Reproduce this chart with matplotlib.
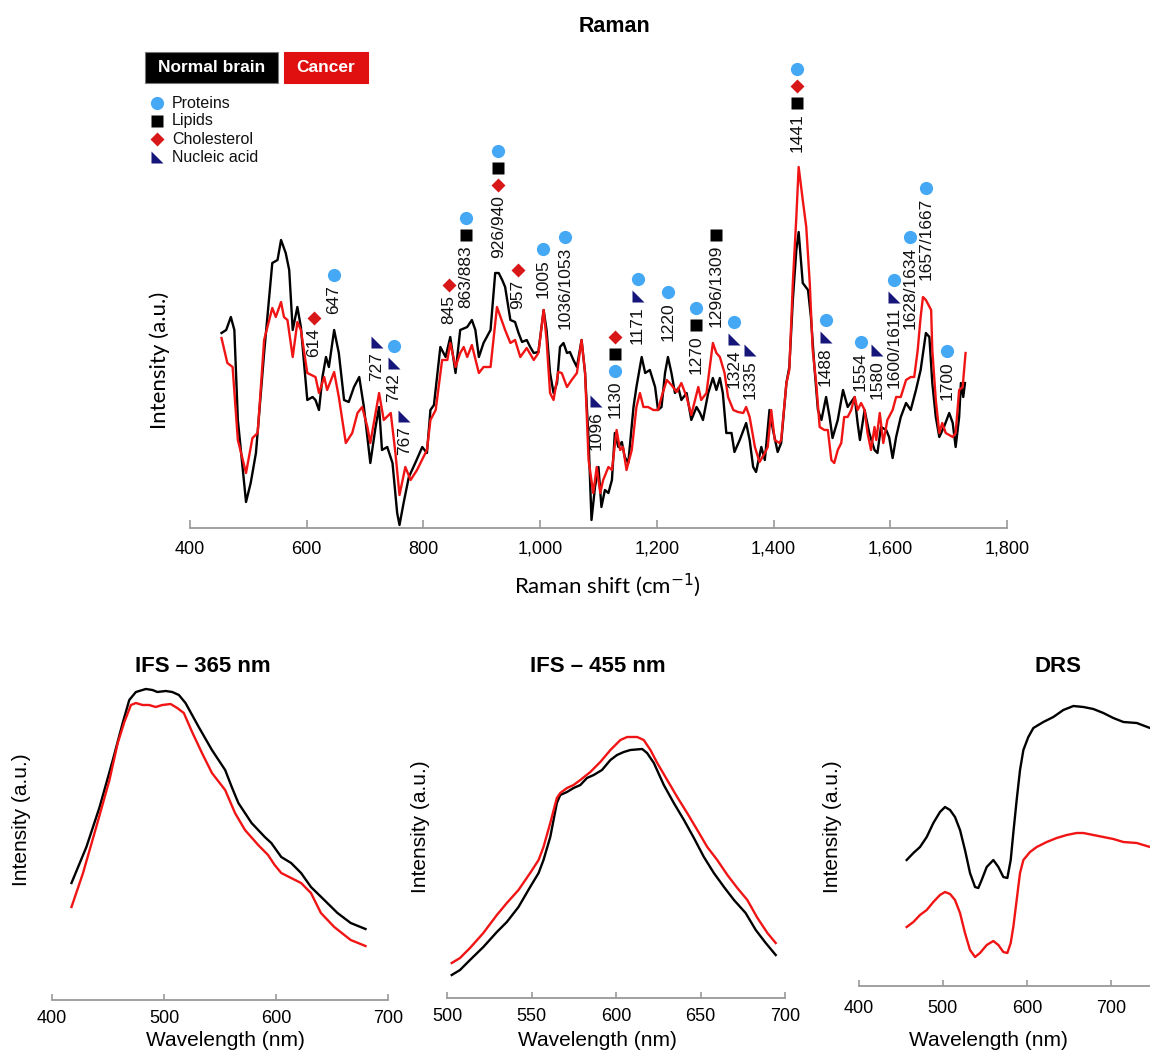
import matplotlib
matplotlib.use("Agg")
import matplotlib.pyplot as plt
from matplotlib.path import Path
from matplotlib.patches import Rectangle
from matplotlib.lines import Line2D

plt.rcParams['font.family'] = ['Liberation Sans', 'DejaVu Sans']

# ---------------- Raman data (wavenumber cm-1, intensity a.u.) ----------------
raman_normal_x = [454, 462, 470, 476, 482, 496, 504, 513, 527, 541, 550, 556, 564, 570, 576, 584, 590, 601, 610, 615,
                  621, 627, 633, 638, 647, 655, 664, 672, 681, 690, 698, 709, 718, 724, 729, 738, 747, 755, 759, 766,
                  775, 786, 798, 806, 812, 818, 829, 838, 846, 855, 863, 875, 883, 889, 895, 903, 915, 923, 929,
                  935, 940, 949, 957, 963, 969, 977, 983, 989, 997, 1006, 1011, 1017, 1023, 1029, 1034, 1040, 1046,
                  1051, 1057, 1063, 1071, 1077, 1083, 1088, 1094, 1100, 1105, 1111, 1117, 1123, 1128, 1134, 1140,
                  1145, 1151, 1160, 1165, 1174, 1180, 1188, 1197, 1202, 1208, 1214, 1219, 1225, 1231, 1237, 1242,
                  1251, 1259, 1268, 1274, 1279, 1288, 1296, 1302, 1308, 1313, 1319, 1328, 1333, 1342, 1353, 1359,
                  1365, 1370, 1379, 1385, 1393, 1399, 1407,
                  1413, 1422, 1427, 1433, 1439, 1443, 1450, 1459, 1464, 1470, 1476, 1482, 1490, 1496, 1501, 1510,
                  1519, 1527, 1533, 1539, 1544, 1548, 1556, 1564, 1573, 1578, 1584, 1593, 1598, 1604, 1610, 1618,
                  1627, 1635, 1644, 1652, 1661, 1667, 1672, 1678, 1684, 1692, 1701, 1707, 1712, 1718, 1721, 1725, 1728]
raman_normal_y = [195, 198, 211, 198, 108, 26, 45, 75, 175, 265, 268, 288, 275, 258, 198, 221, 201, 128, 131, 128,
                  118, 151, 171, 161, 198, 175, 128, 126, 141, 151, 121, 65, 101, 121, 78, 81, 65, 15, 3, 25,
                  51, 65, 81, 75, 118, 123, 181, 171, 191, 155, 198, 201, 208, 198, 171, 185, 198, 255, 255,
                  248, 241, 208, 206, 195, 186, 188, 181, 175, 176, 218, 198, 155, 135, 145, 181, 185, 175,
                  176, 168, 161, 188, 155, 88, 8, 41, 61, 21, 38, 35, 48, 95, 81, 86,
                  71, 65, 121, 141, 171, 155, 158, 141, 118, 121, 155, 171, 155, 135, 140, 128,
                  135, 108, 121, 115, 108, 135, 150, 138, 150, 135, 95, 95, 76, 88, 105, 88,
                  61, 56, 81, 68, 118, 98, 76,
                  85, 145, 161, 228, 278, 296, 245, 238, 211, 161, 118, 108, 131, 111, 90, 108,
                  138, 121, 126, 131, 105, 88, 118, 95, 78, 75, 101, 98, 91, 70, 91, 111,
                  125, 118, 138, 158, 195, 191, 145, 111, 91, 101, 115, 105, 81, 111, 145, 131, 145]

raman_cancer_x = [454, 464, 473, 482, 496, 507, 516, 527, 541, 547, 556, 561, 567, 576, 584, 590, 601, 615, 621, 630,
                  635, 647, 655, 667, 678, 687, 695, 704, 709, 724, 732, 744, 752, 759, 769, 778, 789, 806, 812, 821,
                  832, 841, 846, 855, 863, 869, 875, 883, 895, 903, 915, 926,
                  940, 949, 957, 966, 977, 989, 997, 1006, 1011, 1017, 1023, 1031, 1037, 1046, 1054, 1063, 1071,
                  1077, 1083, 1091, 1097, 1103, 1108, 1117, 1123, 1131, 1137, 1142, 1148, 1157, 1165, 1171, 1177,
                  1185, 1194, 1202, 1208, 1217, 1225, 1234, 1242, 1251, 1259, 1271, 1276, 1285, 1296, 1302, 1308,
                  1316, 1322, 1331, 1339, 1348, 1353, 1359, 1368, 1376, 1385, 1390, 1396, 1402, 1410,
                  1413, 1422, 1427, 1433, 1439, 1443, 1450, 1456, 1462, 1467, 1473, 1479, 1487, 1493, 1499, 1504,
                  1510, 1516, 1521, 1527, 1533, 1539, 1544, 1550, 1556, 1561, 1567, 1573, 1576, 1582, 1588, 1595,
                  1604, 1610, 1618, 1627, 1635, 1641, 1647, 1652, 1656, 1661, 1670, 1672, 1678, 1684, 1689, 1695,
                  1707, 1712, 1718, 1724, 1729]
raman_cancer_y = [190, 165, 161, 88, 55, 90, 95, 188, 220, 211, 226, 211, 208, 171, 206, 198, 155, 151, 135, 151,
                  138, 156, 131, 85, 95, 115, 121, 101, 85, 135, 108, 115, 75, 33, 61, 48, 58, 78, 108, 118,
                  168, 168, 185, 161, 175, 181, 171, 183, 155, 161, 161, 221,
                  198, 185, 188, 171, 180, 168, 175, 218, 188, 135, 128, 156, 155, 141, 148, 155, 188,
                  155, 68, 35, 61, 35, 48, 61, 58, 98, 78, 81, 58, 78, 121, 135, 121,
                  121, 118, 118, 131, 148, 143, 136, 145, 131, 113, 141, 128, 135, 185, 175, 171,
                  155, 131, 118, 116, 115, 121, 111, 81, 66, 75, 81, 118, 88, 85,
                  88, 145, 158, 245, 311, 361, 328, 301, 245, 178, 145, 101, 98, 98, 68, 65,
                  78, 85, 111, 111, 118, 131, 118, 125, 118, 95, 78, 101, 88, 115, 85, 108,
                  118, 131, 131, 148, 151, 151, 178, 211, 231, 228, 218, 178, 128, 95, 105, 95,
                  91, 95, 138, 141, 175]

raman_ticks = [400, 600, 800, 1000, 1200, 1400, 1600, 1800]
raman_tick_labels = ['400', '600', '800', '1,000', '1,200', '1,400', '1,600', '1,800']

# band annotations: label, x position, height of top marker, marker kinds top->bottom
# P = proteins, L = lipids, C = cholesterol, N = nucleic acid
ann_labels = ['614', '647', '727', '742', '767', '845', '863/883', '926/940', '957', '1005', '1036/1053',
              '1096', '1130', '1171', '1220', '1270', '1296/1309', '1324', '1335', '1441', '1488', '1554',
              '1580', '1600/1611', '1628/1634', '1657/1667', '1700']
ann_x = [612, 646, 720, 749, 767, 843, 873, 928, 962, 1005, 1043, 1096, 1128, 1167, 1219, 1267, 1301,
         1333, 1359, 1441, 1489, 1549, 1578, 1606, 1634, 1662, 1697]
ann_top = [210, 253, 186, 182, 112, 243, 310, 377, 258, 279, 291, 127, 191, 249, 236, 220, 293,
           206, 178, 459, 208, 186, 178, 248, 291, 340, 177]
ann_kinds = ['C', 'P', 'N', 'PN', 'N', 'C', 'PL', 'PLC', 'C', 'P', 'P', 'N', 'CLP', 'PN', 'P', 'PL', 'L',
             'PN', 'N', 'PCL', 'PN', 'P', 'N', 'PN', 'P', 'P', 'P']

legend_kinds = ['P', 'L', 'C', 'N']
legend_names = ['Proteins', 'Lipids', 'Cholesterol', 'Nucleic acid']
group_names = ['Normal brain', 'Cancer']

# ---------------- IFS 365 nm ----------------
ifs365_normal_x = [417.4, 430.7, 442.5, 454.3, 463.1, 469.0, 474.9, 483.8, 489.7, 494.1, 501.5, 507.4, 513.3, 519.2,
                   531.0, 542.8, 554.6, 560.5, 566.4, 578.2, 590.0, 595.8, 604.7, 613.5, 622.4, 631.2, 643.1,
                   654.9, 666.7, 679.9]
ifs365_normal_y = [117, 153, 193, 240, 277, 300, 308, 311, 310, 308, 309, 308, 305, 297,
                   273, 250, 230, 213, 197, 177, 163, 157, 143, 137, 127, 113, 100,
                   87, 77, 71]
ifs365_cancer_x = [417.4, 427.7, 439.5, 451.3, 458.7, 464.6, 470.5, 474.9, 480.8, 486.7, 492.6, 498.5, 505.9, 511.8,
                   517.7, 525.1, 533.9, 542.8, 554.6, 563.4, 572.3, 584.1, 592.9, 598.8, 604.7, 613.5, 622.4,
                   631.2, 640.1, 652.0, 666.7, 679.9]
ifs365_cancer_y = [93, 127, 173, 220, 257, 278, 295, 297, 295, 295, 293, 295, 296, 292,
                   287, 268, 247, 227, 210, 187, 170, 155, 145, 135, 127, 122, 117,
                   107, 87, 73, 60, 54]
ifs365_ticks = [400, 500, 600, 700]

# ---------------- IFS 455 nm ----------------
ifs455_normal_x = [502.8, 507.7, 513.6, 521.5, 529.5, 535.4, 542.3, 549.2, 554.2, 557.1, 561.1, 565.0, 567.0, 571.0,
                   574.9, 578.9, 582.8, 586.8, 591.7, 596.7, 600.6, 604.6, 608.5, 615.5, 618.4, 622.4, 628.3,
                   634.2, 640.2, 646.1, 652.0, 657.9, 663.9, 669.8, 676.7, 682.7, 688.6, 694.5]
ifs455_normal_y = [23, 28, 38, 51, 66, 76, 91, 111, 125, 138, 161, 195, 203, 206,
                   210, 213, 220, 223, 228, 238, 243, 246, 248, 249, 245, 235, 213,
                   195, 178, 160, 141, 125, 111, 98, 85, 68, 55, 43]
ifs455_cancer_x = [502.8, 507.7, 513.6, 521.5, 529.5, 535.4, 542.3, 549.2, 554.2, 557.1, 561.1, 565.0, 567.0, 571.0,
                   574.9, 578.9, 584.8, 590.7, 596.7, 602.6, 606.6, 612.5, 616.4, 620.4, 624.4, 630.3, 636.2,
                   642.1, 648.1, 654.0, 659.9, 665.9, 671.8, 677.7, 683.7, 689.6, 694.5]
ifs455_cancer_y = [35, 40, 50, 65, 83, 95, 108, 125, 138, 151, 175, 200, 205, 210,
                   213, 218, 226, 236, 248, 258, 261, 261, 258, 248, 235, 218, 201,
                   185, 168, 151, 138, 123, 110, 98, 80, 65, 55]
ifs455_ticks = [500, 550, 600, 650, 700]

# ---------------- DRS ----------------
drs_normal_x = [456.8, 464.8, 472.7, 480.7, 488.6, 496.5, 502.5, 508.5, 514.4, 520.4, 526.3, 532.3, 538.3, 542.2,
                546.2, 552.2, 560.1, 566.1, 572.0, 576.8, 580.8, 583.9, 587.9, 591.9, 595.9, 601.8, 607.8,
                619.7, 631.6, 643.5, 655.5, 667.4, 679.3, 691.2, 703.1, 715.1, 731.0, 746.8]
drs_normal_y = [126, 133, 139, 149, 163, 174, 179, 176, 169, 156, 136, 113, 99, 98,
                106, 119, 126, 119, 109, 108, 126, 153, 186, 216, 236, 249, 258,
                264, 269, 276, 280, 279, 277, 273, 268, 264, 263, 258]
drs_cancer_x = [456.8, 464.8, 472.7, 480.7, 488.6, 496.5, 502.5, 508.5, 514.4, 520.4, 526.3, 532.3, 538.3, 544.2,
                552.2, 560.1, 566.1, 572.0, 576.8, 580.8, 583.9, 587.9, 591.9, 595.9, 603.8, 611.8, 623.7,
                635.6, 647.5, 659.4, 667.4, 679.3, 691.2, 703.1, 715.1, 731.0, 746.8]
drs_cancer_y = [59, 64, 71, 76, 84, 91, 94, 92, 86, 73, 53, 36, 29, 33,
                41, 45, 41, 34, 33, 43, 59, 86, 113, 126, 134, 139, 144,
                148, 151, 153, 153, 151, 149, 147, 144, 143, 139]
drs_ticks = [400, 500, 600, 700]

# ---------------- styling ----------------
BLACK = '#000000'
RED = '#f01414'
BOX_RED = '#e01010'
BLUE = '#45a8f5'
DRED = '#d81818'
NAVY = '#15157a'
SPINE = '#999999'
HUMANIST = ['Lato', 'DejaVu Sans']
TRI = Path([(-1, 1), (-1, -1), (1, -1), (-1, 1)], [Path.MOVETO, Path.LINETO, Path.LINETO, Path.CLOSEPOLY])
MARK = {'P': dict(marker='o', color=BLUE, ms=9.5),
        'L': dict(marker='s', color=BLACK, ms=8),
        'C': dict(marker='D', color=DRED, ms=6.8),
        'N': dict(marker=TRI, color=NAVY, ms=8.5)}

W, H = 1150, 1051
fig = plt.figure(figsize=(W / 100, H / 100), dpi=100)


def fx(px):
    return px / W


def fy(py):
    return 1 - py / H


def rect(l, t, r, b):
    return [fx(l), fy(b), (r - l) / W, (b - t) / H]


def style_axis(a, ticks, labels, tick_len, pad, size):
    for s in ('left', 'top', 'right'):
        a.spines[s].set_visible(False)
    a.spines['bottom'].set_color(SPINE)
    a.spines['bottom'].set_linewidth(1.3)
    a.set_yticks([])
    a.set_xticks(ticks)
    a.set_xticklabels(labels)
    a.tick_params(axis='x', direction='in', length=tick_len, width=1.2, color=SPINE,
                  labelsize=size, pad=pad)


# ---- Raman panel ----
ax = fig.add_axes(rect(190, 55, 1007, 528))
ax.plot(raman_normal_x, raman_normal_y, color=BLACK, lw=1.7)
ax.plot(raman_cancer_x, raman_cancer_y, color=RED, lw=1.7)
ax.set_xlim(400, 1800)
ax.set_ylim(0, 473)
style_axis(ax, raman_ticks, raman_tick_labels, 6, 9, 13)

STEP = 17
for lab, xv, top, kinds in zip(ann_labels, ann_x, ann_top, ann_kinds):
    for k, kind in enumerate(kinds):
        ax.plot([xv], [top - k * STEP], linestyle='none', clip_on=False, mec='none', **MARK[kind])
    ax.text(xv, top - (len(kinds) - 1) * STEP - 10, lab, rotation=90, ha='center', va='top',
            fontsize=12.5, color='#111111')

fig.text(fx(615), fy(27), 'Raman', ha='center', va='center', fontsize=15.5, fontweight='bold')
fig.text(fx(160), fy(360), 'Intensity (a.u.)', rotation=90, ha='center', va='center',
         fontsize=16, family=HUMANIST)
fig.text(fx(607), fy(585), 'Raman shift (cm$^{-1}$)', ha='center', va='center',
         fontsize=16, family=HUMANIST)

# group legend boxes
box_specs = [(145, 278, BLACK), (284, 368, BOX_RED)]
for (l, r, c), name in zip(box_specs, group_names):
    fig.add_artist(Rectangle((fx(l), fy(83)), (r - l) / W, 31 / H, transform=fig.transFigure,
                             facecolor=c, edgecolor='#777777' if c == BLACK else c, lw=0.8))
    fig.text(fx((l + r) / 2), fy(67.5), name, ha='center', va='center', color='white',
             fontsize=12.5, fontweight='bold')

# marker legend
for i, (kind, name) in enumerate(zip(legend_kinds, legend_names)):
    ypx = 103 + i * 18
    fig.add_artist(Line2D([fx(157)], [fy(ypx)], transform=fig.transFigure, linestyle='none',
                          mec='none', **MARK[kind]))
    fig.text(fx(172), fy(ypx), name, ha='left', va='center', fontsize=11.5, color='#111111')

# ---- IFS 365 ----
a1 = fig.add_axes(rect(52, 682, 388, 1000))
a1.plot(ifs365_normal_x, ifs365_normal_y, color=BLACK, lw=1.7)
a1.plot(ifs365_cancer_x, ifs365_cancer_y, color=RED, lw=1.7)
a1.set_xlim(400, 700)
a1.set_ylim(0, 318)
style_axis(a1, ifs365_ticks, [str(t) for t in ifs365_ticks], 4, 7, 13)
fig.text(fx(203), fy(667), 'IFS – 365 nm', ha='center', va='center', fontsize=16, fontweight='bold')
fig.text(fx(22), fy(820), 'Intensity (a.u.)', rotation=90, ha='center', va='center', fontsize=15)
fig.text(fx(225), fy(1040), 'Wavelength (nm)', ha='center', va='center', fontsize=15)

# ---- IFS 455 ----
a2 = fig.add_axes(rect(447, 682, 785, 998))
a2.plot(ifs455_normal_x, ifs455_normal_y, color=BLACK, lw=1.7)
a2.plot(ifs455_cancer_x, ifs455_cancer_y, color=RED, lw=1.7)
a2.set_xlim(500, 700)
a2.set_ylim(0, 316)
style_axis(a2, ifs455_ticks, [str(t) for t in ifs455_ticks], 4, 7, 13)
fig.text(fx(598), fy(667), 'IFS – 455 nm', ha='center', va='center', fontsize=16, fontweight='bold')
fig.text(fx(420), fy(827), 'Intensity (a.u.)', rotation=90, ha='center', va='center', fontsize=15)
fig.text(fx(597), fy(1040), 'Wavelength (nm)', ha='center', va='center', fontsize=15)

# ---- DRS ----
a3 = fig.add_axes(rect(859, 682, 1150, 986))
a3.plot(drs_normal_x, drs_normal_y, color=BLACK, lw=1.7)
a3.plot(drs_cancer_x, drs_cancer_y, color=RED, lw=1.7)
a3.set_xlim(400, 746.8)
a3.set_ylim(0, 304)
style_axis(a3, drs_ticks, [str(t) for t in drs_ticks], 4, 10, 13)
fig.text(fx(1058), fy(667), 'DRS', ha='center', va='center', fontsize=16, fontweight='bold')
fig.text(fx(833), fy(827), 'Intensity (a.u.)', rotation=90, ha='center', va='center', fontsize=15)
fig.text(fx(988), fy(1040), 'Wavelength (nm)', ha='center', va='center', fontsize=15)

fig.savefig('out.png', dpi=100)
